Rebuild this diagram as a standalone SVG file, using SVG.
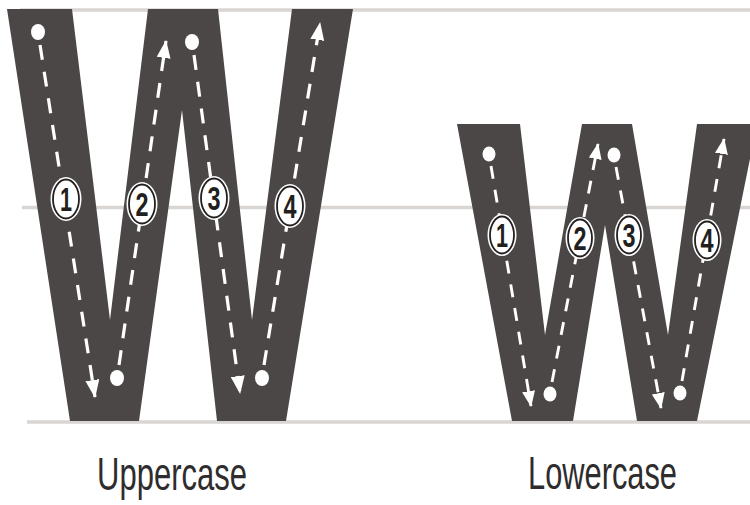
<svg xmlns="http://www.w3.org/2000/svg" width="750" height="505" viewBox="0 0 750 505">
<style>
.guide{stroke:#d8d5d3;stroke-width:3.5;fill:none}
.letter{fill:#4b4746}
.dashU{stroke:#fff;stroke-width:3.2;fill:none;stroke-dasharray:15 12}
.dashL{stroke:#fff;stroke-width:2.9;fill:none;stroke-dasharray:13 11}
.dot{fill:#fff}
.badge{fill:#fff}
.ring{fill:none;stroke:#231f20;stroke-width:1.8}
.num{font-family:"Liberation Sans",Arial,sans-serif;font-weight:bold;font-size:34px;fill:#231f20;text-anchor:middle}
.label{font-family:"Liberation Sans",Arial,sans-serif;font-size:46px;fill:#2e2c2c}
</style>
<defs>
<marker id="arrU" markerUnits="userSpaceOnUse" markerWidth="18" markerHeight="14" viewBox="0 0 18 14" refX="17" refY="7" orient="auto"><path d="M0,0 L18,7 L0,14 Z" fill="#fff"/></marker>
<marker id="arrL" markerUnits="userSpaceOnUse" markerWidth="16" markerHeight="13" viewBox="0 0 16 13" refX="15" refY="6.5" orient="auto"><path d="M0,0 L16,6.5 L0,13 Z" fill="#fff"/></marker>
</defs>
<rect width="750" height="505" fill="#fff"/>
<g id="guides">
<line class="guide" x1="20" y1="10" x2="750" y2="10"/>
<line class="guide" x1="22" y1="207.5" x2="750" y2="207.5"/>
<line class="guide" x1="27" y1="422" x2="750" y2="422"/>
</g>
<g id="uppercase-W">
<polygon class="letter" points="7,9 72,9 110,320 148,9 218,9 252,320 292,9 353,9 286,421 217,421 182,110 139,421 70,421"/>
</g>
<g id="lowercase-w">
<polygon class="letter" points="457,124 520,124 545,335 582,124 632,124 668,335 697,124 757,124 697,421 637,421 605,225 573,421 512,421"/>
</g>
<g id="connectors">
<path class="dashU" d="M40,45 L95,397" marker-end="url(#arrU)"/>
<path class="dashU" d="M119,365 L166,41" marker-end="url(#arrU)"/>
<path class="dashU" d="M194,55 L240,393" marker-end="url(#arrU)"/>
<path class="dashU" d="M264,365 L320,23" marker-end="url(#arrU)"/>
<path class="dashL" d="M491,166 L531,406" marker-end="url(#arrL)"/>
<path class="dashL" d="M552,382 L598,144" marker-end="url(#arrL)"/>
<path class="dashL" d="M616,167 L661,408" marker-end="url(#arrL)"/>
<path class="dashL" d="M682,381 L724,139" marker-end="url(#arrL)"/>
</g>
<g id="start-dots">
<ellipse class="dot" cx="38" cy="32" rx="7" ry="8"/>
<ellipse class="dot" cx="117" cy="378" rx="7" ry="8"/>
<ellipse class="dot" cx="192" cy="42" rx="7" ry="8"/>
<ellipse class="dot" cx="262" cy="378" rx="7" ry="8"/>
<ellipse class="dot" cx="489" cy="154" rx="6.5" ry="7.5"/>
<ellipse class="dot" cx="550" cy="394" rx="6.5" ry="7.5"/>
<ellipse class="dot" cx="614" cy="155" rx="6.5" ry="7.5"/>
<ellipse class="dot" cx="680" cy="393" rx="6.5" ry="7.5"/>
</g>
<g id="badge-U1"><ellipse class="badge" cx="66" cy="199" rx="15.5" ry="22"/><ellipse class="ring" cx="66" cy="199" rx="13" ry="19.5"/><text class="num" x="66" y="211" textLength="12" lengthAdjust="spacingAndGlyphs">1</text></g>
<g id="badge-U2"><ellipse class="badge" cx="142" cy="204" rx="15.5" ry="22"/><ellipse class="ring" cx="142" cy="204" rx="13" ry="19.5"/><text class="num" x="142" y="216" textLength="13" lengthAdjust="spacingAndGlyphs">2</text></g>
<g id="badge-U3"><ellipse class="badge" cx="214" cy="198" rx="15.5" ry="22"/><ellipse class="ring" cx="214" cy="198" rx="13" ry="19.5"/><text class="num" x="214" y="210" textLength="13" lengthAdjust="spacingAndGlyphs">3</text></g>
<g id="badge-U4"><ellipse class="badge" cx="290" cy="206" rx="15.5" ry="22"/><ellipse class="ring" cx="290" cy="206" rx="13" ry="19.5"/><text class="num" x="290" y="218" textLength="13" lengthAdjust="spacingAndGlyphs">4</text></g>
<g id="badge-L1"><ellipse class="badge" cx="502" cy="235" rx="14.5" ry="21"/><ellipse class="ring" cx="502" cy="235" rx="12" ry="18.5"/><text class="num" x="502" y="247" textLength="12" lengthAdjust="spacingAndGlyphs">1</text></g>
<g id="badge-L2"><ellipse class="badge" cx="580" cy="238" rx="14.5" ry="21"/><ellipse class="ring" cx="580" cy="238" rx="12" ry="18.5"/><text class="num" x="580" y="250" textLength="13" lengthAdjust="spacingAndGlyphs">2</text></g>
<g id="badge-L3"><ellipse class="badge" cx="629" cy="235" rx="14.5" ry="21"/><ellipse class="ring" cx="629" cy="235" rx="12" ry="18.5"/><text class="num" x="629" y="247" textLength="13" lengthAdjust="spacingAndGlyphs">3</text></g>
<g id="badge-L4"><ellipse class="badge" cx="707" cy="240" rx="14.5" ry="21"/><ellipse class="ring" cx="707" cy="240" rx="12" ry="18.5"/><text class="num" x="707" y="252" textLength="13" lengthAdjust="spacingAndGlyphs">4</text></g>
<g id="labels">
<text class="label" x="97" y="490" textLength="150" lengthAdjust="spacingAndGlyphs">Uppercase</text>
<text class="label" x="528" y="489" textLength="149" lengthAdjust="spacingAndGlyphs">Lowercase</text>
</g>
</svg>
